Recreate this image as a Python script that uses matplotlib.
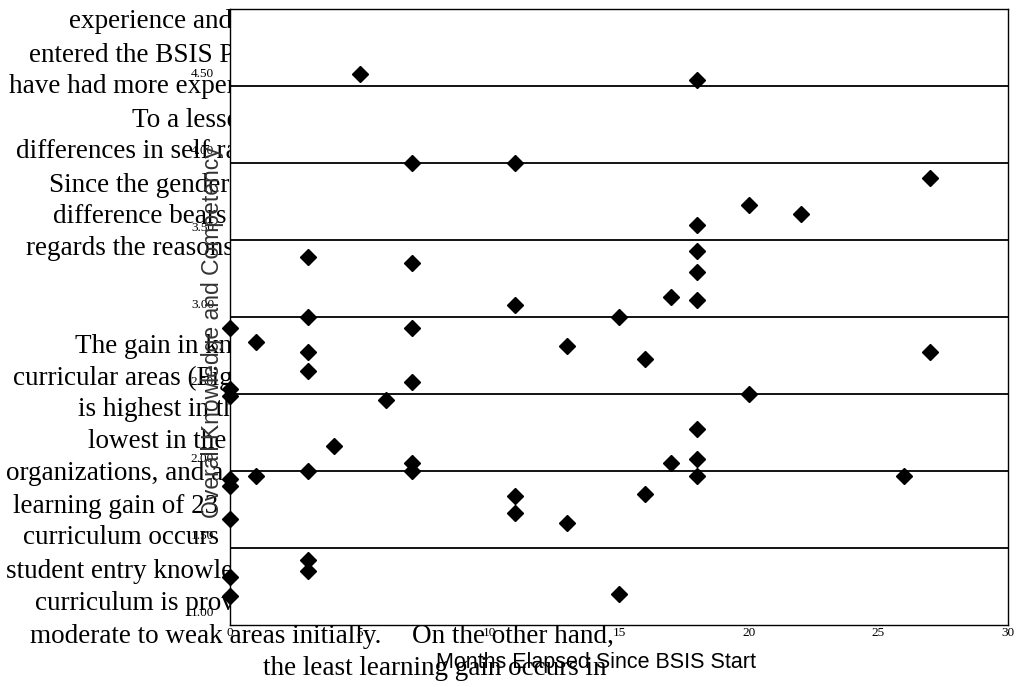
import numpy as np
import matplotlib.pyplot as plt

# ----- Survey data: months in program vs. overall self-rating -----
months = [5, 18, 7, 11, 27, 20, 22, 18, 3, 7, 18, 18, 17, 18, 11, 3, 15, 0, 7, 1,
          13, 3, 16, 27, 3, 7, 0, 0, 6, 20, 4, 18, 7, 7, 3, 1, 0, 0, 18, 17,
          18, 26, 11, 11, 16, 13, 0, 3, 3, 0, 0, 15]
scores = [4.58, 4.54, 4.00, 4.00, 3.90, 3.73, 3.67, 3.60, 3.39, 3.35, 3.43, 3.29,
          3.13, 3.11, 3.08, 3.00, 3.00, 2.93, 2.93, 2.84, 2.81, 2.77, 2.73, 2.77,
          2.65, 2.58, 2.53, 2.49, 2.46, 2.50, 2.16, 2.27, 2.05, 2.00, 2.00, 1.97,
          1.95, 1.90, 2.08, 2.05, 1.97, 1.97, 1.84, 1.73, 1.85, 1.66, 1.69, 1.42,
          1.35, 1.31, 1.19, 1.20]

x_ticks = [0, 5, 10, 15, 20, 25, 30]
y_ticks = [1.0, 1.5, 2.0, 2.5, 3.0, 3.5, 4.0, 4.5]
y_tick_labels = ["1.00", "1.50", "2.00", "2.50", "3.00", "3.50", "4.00", "4.50"]

# ----- Page text running around the figure -----
body = [
    (69, 28, "experience and the"),
    (29, 62, "entered the BSIS Program"),
    (9, 93, "have had more experience"),
    (132, 127, "To a lesser"),
    (16, 158, "differences in self rating"),
    (49, 192, "Since the gender"),
    (53, 223, "difference bears"),
    (26, 255, "regards the reasons"),
    (75, 353, "The gain in knowledge"),
    (13, 385, "curricular areas (Figure"),
    (78, 416, "is highest in the"),
    (88, 448, "lowest in the"),
    (6, 480, "organizations, and a"),
    (13, 513, "learning gain of 23"),
    (23, 544, "curriculum occurs"),
    (6, 578, "student entry knowledge"),
    (35, 610, "curriculum is providing"),
    (30, 643, "moderate to weak areas initially."),
    (412, 643, "On the other hand,"),
    (263, 675, "the least learning gain occurs in"),
]

W, H = 1016, 687
fig = plt.figure(figsize=(W / 100, H / 100), dpi=100)
fig.patch.set_facecolor("white")

for px, py, line in body:
    fig.text(px / W, 1 - py / H, line, family="Liberation Serif", fontsize=19.5,
             ha="left", va="baseline", color="black", zorder=-1)

ax = fig.add_axes([230 / W, 1 - 625 / H, 778 / W, 616 / H])
ax.set_facecolor("white")
ax.set_xlim(0, 30)
ax.set_ylim(1, 5)

for y in y_ticks[1:]:
    ax.axhline(y, color="black", lw=1.3, zorder=1)

ax.plot(months, scores, linestyle="none", marker="D", markersize=7.8,
        color="black", clip_on=False, zorder=3)

for s in ax.spines.values():
    s.set_linewidth(1.0)
    s.set_color("black")

ax.set_xticks([])
ax.set_yticks([])

for v, lbl in zip(y_ticks, y_tick_labels):
    ax.annotate(lbl, xy=(0, v), xytext=(-11.5, 6.5), textcoords="offset points",
                ha="right", va="baseline", family="Liberation Serif",
                fontsize=9.5, color="black", annotation_clip=False)
for v in x_ticks:
    ax.annotate(str(v), xy=(v, 1), xytext=(0, -1.5), textcoords="offset points",
                ha="center", va="top", family="Liberation Serif",
                fontsize=9.5, color="black", annotation_clip=False)

ax.text(0.471, -0.069, "Months Elapsed Since BSIS Start", transform=ax.transAxes,
        ha="center", va="baseline", family="Liberation Sans", fontsize=15.5,
        color="black")
ax.text(-0.022, 0.476, "Overall Knowledge and Competency", transform=ax.transAxes,
        rotation=90, ha="center", va="center", family="Liberation Sans",
        fontsize=16.5, color="#333333")

fig.savefig("out.png", dpi=100)
